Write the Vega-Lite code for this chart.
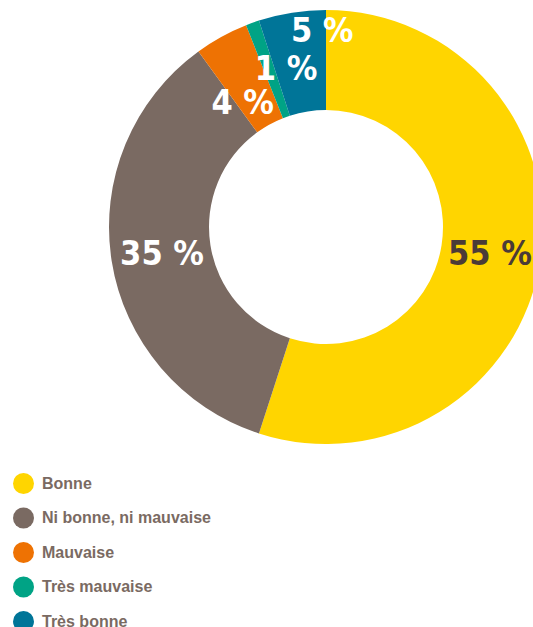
{
  "$schema": "https://vega.github.io/schema/vega-lite/v6.json",
  "width": 533,
  "height": 627,
  "autosize": "none",
  "padding": 0,
  "background": "white",
  "config": {"view": {"stroke": null}},
  "data": {
    "values": [
      {"categorie": "Bonne", "valeur": 55, "rang": 1},
      {"categorie": "Ni bonne, ni mauvaise", "valeur": 35, "rang": 2},
      {"categorie": "Mauvaise", "valeur": 4, "rang": 3},
      {"categorie": "Très mauvaise", "valeur": 1, "rang": 4},
      {"categorie": "Très bonne", "valeur": 5, "rang": 5}
    ]
  },
  "transform": [{"calculate": "datum.valeur + ' %'", "as": "etiquette"}],
  "layer": [
    {
      "mark": {"type": "arc", "outerRadius": 217, "innerRadius": 117},
      "encoding": {
        "x": {"value": 326},
        "y": {"value": 227},
        "theta": {"field": "valeur", "type": "quantitative", "stack": true},
        "order": {"field": "rang", "type": "quantitative"},
        "color": {
          "field": "categorie",
          "type": "nominal",
          "scale": {
            "domain": ["Bonne", "Ni bonne, ni mauvaise", "Mauvaise", "Très mauvaise", "Très bonne"],
            "range": ["#FFD500", "#7A6A62", "#EE7203", "#00A385", "#007598"]
          },
          "legend": {
            "title": null,
            "orient": "none",
            "legendX": 13,
            "legendY": 473,
            "padding": 0,
            "symbolType": "circle",
            "symbolSize": 440,
            "symbolStrokeWidth": 0,
            "rowPadding": 13.5,
            "labelOffset": 8,
            "labelLimit": 400,
            "labelFont": "Liberation Sans",
            "labelFontSize": 16,
            "labelFontWeight": "bold",
            "labelColor": "#7A6A62"
          }
        }
      }
    },
    {
      "mark": {"type": "text", "radius": 166, "dy": 2, "font": "DejaVu Sans Condensed", "fontSize": 34, "fontWeight": "bold", "align": "center", "baseline": "middle"},
      "encoding": {
        "x": {"value": 326},
        "y": {"value": 227},
        "theta": {"field": "valeur", "type": "quantitative", "stack": true},
        "order": {"field": "rang", "type": "quantitative"},
        "text": {"field": "etiquette"},
        "color": {"condition": {"test": "datum.categorie == 'Bonne'", "value": "#4B3B38"}, "value": "white"},
        "opacity": {"condition": {"test": "datum.valeur >= 30", "value": 1}, "value": 0}
      }
    },
    {
      "mark": {"type": "text", "radius": 148, "dx": -12, "dy": 7, "font": "DejaVu Sans Condensed", "fontSize": 34, "fontWeight": "bold", "align": "center", "baseline": "middle", "color": "white"},
      "encoding": {
        "x": {"value": 326},
        "y": {"value": 227},
        "theta": {"field": "valeur", "type": "quantitative", "stack": true},
        "order": {"field": "rang", "type": "quantitative"},
        "text": {"field": "etiquette"},
        "opacity": {"condition": {"test": "datum.categorie == 'Mauvaise'", "value": 1}, "value": 0}
      }
    },
    {
      "mark": {"type": "text", "radius": 162, "dx": 15, "dy": -5, "font": "DejaVu Sans Condensed", "fontSize": 34, "fontWeight": "bold", "align": "center", "baseline": "middle", "color": "white"},
      "encoding": {
        "x": {"value": 326},
        "y": {"value": 227},
        "theta": {"field": "valeur", "type": "quantitative", "stack": true},
        "order": {"field": "rang", "type": "quantitative"},
        "text": {"field": "etiquette"},
        "opacity": {"condition": {"test": "datum.categorie == 'Très mauvaise'", "value": 1}, "value": 0}
      }
    },
    {
      "mark": {"type": "text", "radius": 197, "dx": 27, "dy": 0, "font": "DejaVu Sans Condensed", "fontSize": 34, "fontWeight": "bold", "align": "center", "baseline": "middle", "color": "white"},
      "encoding": {
        "x": {"value": 326},
        "y": {"value": 227},
        "theta": {"field": "valeur", "type": "quantitative", "stack": true},
        "order": {"field": "rang", "type": "quantitative"},
        "text": {"field": "etiquette"},
        "opacity": {"condition": {"test": "datum.categorie == 'Très bonne'", "value": 1}, "value": 0}
      }
    }
  ]
}
